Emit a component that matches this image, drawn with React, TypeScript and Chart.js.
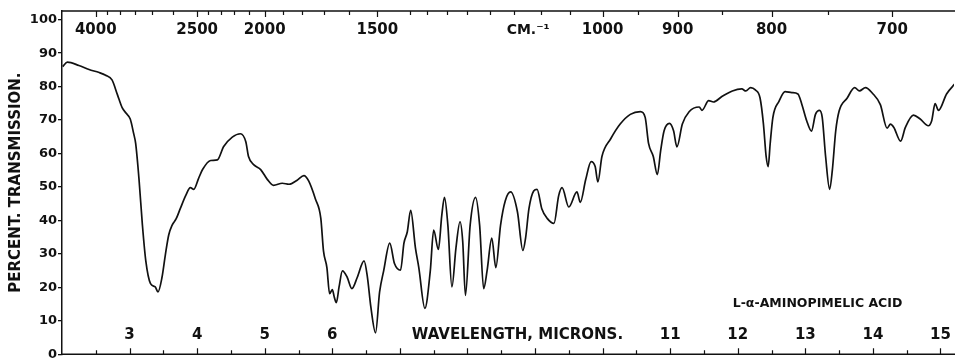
import React, { useEffect, useRef } from 'react';
import { Chart, registerables } from 'chart.js';

Chart.register(...registerables);

// ---- data ----
const wavelengths = [
  2.01, 2.08, 2.25, 2.4, 2.55, 2.645, 2.74, 2.82, 2.89, 2.95, 3.01, 3.06, 3.09, 3.14, 3.19, 3.24, 3.31, 3.38, 3.42,
  3.48, 3.53, 3.58, 3.63, 3.69, 3.75, 3.83, 3.9, 3.95, 4.02, 4.08, 4.2, 4.3, 4.39, 4.52, 4.64, 4.72, 4.76, 4.84,
  4.94, 5.04, 5.13, 5.26, 5.36, 5.48, 5.58, 5.65, 5.75, 5.83, 5.87, 5.92, 5.96, 6.0, 6.03, 6.06, 6.1, 6.15, 6.22,
  6.29, 6.37, 6.47, 6.52, 6.57, 6.64, 6.7, 6.76, 6.85, 6.92, 7.01, 7.06, 7.11, 7.16, 7.23, 7.28, 7.37, 7.45, 7.5,
  7.57, 7.62, 7.66, 7.71, 7.77, 7.83, 7.89, 7.93, 7.97, 8.04, 8.12, 8.18, 8.24, 8.29, 8.36, 8.42, 8.49, 8.56, 8.64,
  8.74, 8.82, 8.86, 8.91, 8.98, 9.03, 9.1, 9.18, 9.28, 9.35, 9.4, 9.5, 9.62, 9.67, 9.75, 9.83, 9.89, 9.93, 9.99,
  10.12, 10.26, 10.41, 10.56, 10.63, 10.68, 10.75, 10.81, 10.86, 10.91, 10.99, 11.05, 11.1, 11.18, 11.28, 11.43,
  11.47, 11.57, 11.64, 11.77, 11.92, 12.06, 12.12, 12.19, 12.26, 12.33, 12.38, 12.42, 12.45, 12.48, 12.52, 12.61,
  12.7, 12.8, 12.89, 12.95, 13.02, 13.09, 13.15, 13.21, 13.25, 13.3, 13.36, 13.4, 13.45, 13.5, 13.62, 13.73, 13.8,
  13.89, 13.99, 14.11, 14.21, 14.26, 14.31, 14.41, 14.48, 14.6, 14.7, 14.82, 14.87, 14.92, 14.97, 15.09, 15.22,
];
const transmission = [
  86.0, 87.3, 86.3, 85.1, 84.2, 83.4, 82.0, 77.6, 73.7, 72.0, 70.3, 66.0, 63.0, 52.2, 38.6, 27.9, 21.1, 20.1, 18.6,
  23.0, 29.8, 35.7, 38.6, 40.5, 43.5, 47.4, 49.8, 49.3, 52.5, 55.2, 57.9, 58.1, 62.0, 64.9, 65.9, 63.5, 59.1, 56.6,
  55.2, 52.2, 50.5, 51.1, 50.8, 52.0, 53.4, 51.8, 46.4, 40.6, 30.8, 25.9, 18.1, 19.3, 17.0, 15.4, 20.1, 24.9, 23.0,
  19.6, 23.0, 27.9, 23.0, 14.2, 6.4, 18.6, 24.9, 33.2, 27.1, 25.1, 33.2, 36.6, 43.0, 31.8, 25.9, 13.7, 24.9, 37.1,
  31.3, 41.5, 46.9, 38.6, 20.1, 31.8, 39.6, 33.7, 17.6, 38.6, 46.9, 38.6, 19.6, 24.9, 34.7, 25.9, 38.6, 45.9, 48.5,
  42.5, 31.0, 34.7, 43.5, 48.8, 49.3, 43.5, 40.6, 39.1, 47.4, 49.8, 44.0, 48.5, 45.4, 52.2, 57.6, 56.1, 51.5, 59.1,
  64.4, 68.8, 71.7, 72.5, 70.8, 63.0, 59.1, 53.7, 61.0, 66.8, 69.0, 66.8, 62.0, 68.8, 72.5, 73.9,
  72.9, 75.8, 75.4, 77.1, 78.7, 79.3, 78.7, 79.7, 79.0, 76.6, 68.8, 59.1, 56.1, 63.0, 70.8, 75.6,
  78.5, 78.2, 77.8, 74.6, 69.8, 66.7, 71.7, 72.9, 70.8, 59.1, 49.3, 55.1, 66.8, 72.7, 76.6, 79.7, 78.7,
  79.7, 78.1, 74.6, 67.6, 68.8, 67.8, 63.7, 67.8, 71.5, 70.3, 68.3, 69.8, 74.9, 72.9, 77.8, 81.0,
];

const yTicks = [0, 10, 20, 30, 40, 50, 60, 70, 80, 90, 100];
const micronMajorTicks = [3, 4, 5, 6, 7, 8, 9, 10, 11, 12, 13, 14, 15];
const micronLabels = [3, 4, 5, 6, 11, 12, 13, 14, 15];
const micronHalfTicks = [2.5, 3.5, 4.5, 5.5, 6.5, 7.5, 8.5, 9.5, 10.5, 11.5, 12.5, 13.5, 14.5];
const wavenumberLabels = [4000, 2500, 2000, 1500, 1000, 900, 800, 700];
const wavenumberMinor = [
  3750, 3500, 3250, 3000, 2750, 2400, 2300, 2200, 2100, 1900, 1800, 1700, 1600, 1400, 1350, 1300, 1250, 1200,
  1150, 1100, 1050, 950, 850, 750, 650,
];
const cmLabel = 'CM.⁻¹';
const xTitle = 'WAVELENGTH, MICRONS.';
const yTitle = 'PERCENT. TRANSMISSION.';
const compound = 'L-α-AMINOPIMELIC ACID';

const INK = '#111';
const FONT = '"DejaVu Sans", sans-serif';

const annotatePlugin = {
  id: 'irAnnotate',
  afterDraw(chart: any) {
    const { ctx, chartArea, scales } = chart;
    const x = scales.x;
    const y = scales.y;
    const { left, top, bottom } = chartArea;
    ctx.save();
    ctx.strokeStyle = INK;
    ctx.fillStyle = INK;
    // frame: top and bottom lines
    ctx.lineWidth = 1.5;
    ctx.beginPath();
    ctx.moveTo(left, top);
    ctx.lineTo(chart.width, top);
    ctx.moveTo(left, bottom);
    ctx.lineTo(chart.width, bottom);
    ctx.stroke();

    // bottom micron ticks (pointing up into the plot)
    ctx.lineWidth = 1.2;
    ctx.beginPath();
    micronMajorTicks.forEach((m) => {
      const px = Math.round(x.getPixelForValue(m)) + 0.5;
      ctx.moveTo(px, bottom);
      ctx.lineTo(px, bottom - 6);
    });
    micronHalfTicks.forEach((m) => {
      const px = Math.round(x.getPixelForValue(m)) + 0.5;
      ctx.moveTo(px, bottom);
      ctx.lineTo(px, bottom - 4);
    });
    // top wavenumber ticks (pointing down)
    wavenumberLabels.forEach((w) => {
      const px = Math.round(x.getPixelForValue(10000 / w)) + 0.5;
      ctx.moveTo(px, top);
      ctx.lineTo(px, top + 6);
    });
    wavenumberMinor.forEach((w) => {
      const px = Math.round(x.getPixelForValue(10000 / w)) + 0.5;
      ctx.moveTo(px, top);
      ctx.lineTo(px, top + 4);
    });
    ctx.stroke();

    // micron labels inside the bottom of the plot
    ctx.textAlign = 'center';
    ctx.textBaseline = 'middle';
    ctx.font = `bold 15px ${FONT}`;
    const labelY = y.getPixelForValue(5.6);
    micronLabels.forEach((m) => {
      ctx.fillText(String(m), x.getPixelForValue(m), labelY);
    });
    // wavenumber labels inside the top of the plot
    const topY = y.getPixelForValue(96.9);
    wavenumberLabels.forEach((w) => {
      ctx.fillText(String(w), x.getPixelForValue(10000 / w), topY);
    });
    ctx.textAlign = 'left';
    ctx.font = `bold 14px ${FONT}`;
    ctx.fillText(cmLabel, x.getPixelForValue(8.58), topY);

    // axis title inside the plot
    ctx.textAlign = 'center';
    ctx.font = `bold 15px ${FONT}`;
    ctx.fillText(xTitle, x.getPixelForValue(8.74), labelY);

    // compound name
    ctx.font = `bold 12.5px ${FONT}`;
    ctx.fillText(compound, x.getPixelForValue(13.18), y.getPixelForValue(15.1));
    ctx.restore();
  },
};

export default function App() {
  const canvasRef = useRef<HTMLCanvasElement | null>(null);

  useEffect(() => {
    const canvas = canvasRef.current;
    if (!canvas) return;
    const points = wavelengths.map((w, i) => ({ x: w, y: transmission[i] }));
    const chart = new Chart(canvas, {
      type: 'line',
      data: {
        datasets: [
          {
            data: points,
            borderColor: INK,
            borderWidth: 1.7,
            pointRadius: 0,
            fill: false,
            cubicInterpolationMode: 'monotone',
          },
        ],
      },
      options: {
        responsive: false,
        animation: false,
        events: [],
        layout: { padding: { left: 0, top: 11, right: 1, bottom: 1 } },
        plugins: { legend: { display: false }, tooltip: { enabled: false } },
        scales: {
          x: { type: 'linear', min: 2, max: 15.2, display: false },
          y: {
            type: 'linear',
            min: 0,
            max: 102.6,
            afterBuildTicks: (s: any) => {
              s.ticks = yTicks.map((v) => ({ value: v }));
            },
            afterFit: (s: any) => {
              s.width = 62;
            },
            ticks: { color: INK, font: { family: FONT, size: 13, weight: 'bold' }, padding: 1, autoSkip: false },
            grid: { drawOnChartArea: false, drawTicks: true, tickLength: 4, color: INK, lineWidth: 1.3 },
            border: { display: true, color: INK, width: 1.5 },
            title: {
              display: true,
              text: yTitle,
              color: INK,
              font: { family: FONT, size: 15, weight: 'bold' },
              padding: { top: 7, bottom: 0 },
            },
          },
        },
      },
      plugins: [annotatePlugin],
    });
    return () => chart.destroy();
  }, []);

  return (
    <div style={{ position: 'fixed', left: 0, top: 0, width: 955, height: 363, background: '#fff' }}>
      <canvas ref={canvasRef} width={955} height={363} style={{ display: 'block' }} />
    </div>
  );
}
